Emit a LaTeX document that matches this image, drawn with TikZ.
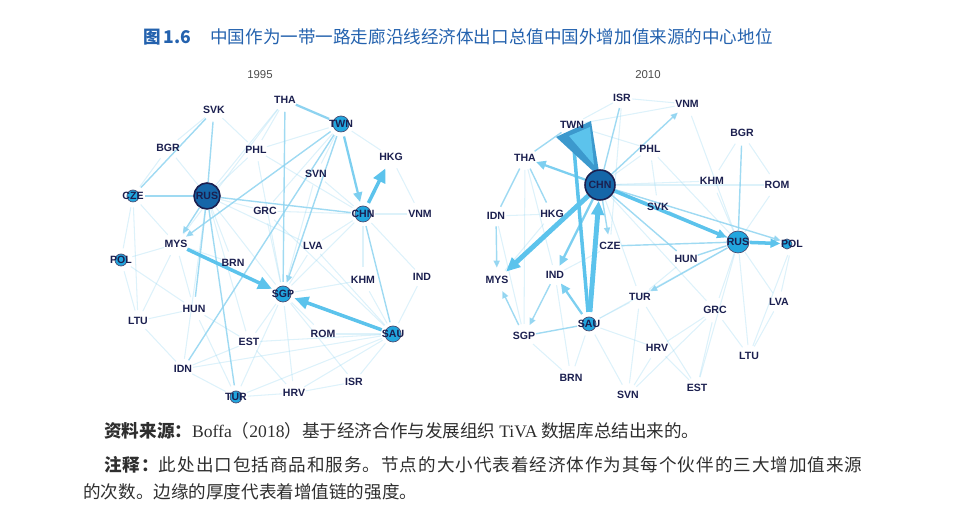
\documentclass[tikz,border=0pt]{standalone}
\usepackage{fontspec}
\setmainfont{Liberation Serif}
\newfontfamily\cjk{Noto Sans CJK SC}
\newfontfamily\cjkwide{Noto Sans CJK SC}[LetterSpace=5.5]
\newfontfamily\labfont{Liberation Sans}
\usetikzlibrary{arrows.meta,backgrounds,calc}

\definecolor{navy}{HTML}{1B1F4F}
\definecolor{ttlblue}{HTML}{2462AE}
\definecolor{edgeblue}{HTML}{8ED3F0}
\definecolor{arrblue}{HTML}{5CC3EC}
\definecolor{nodeblue}{HTML}{22A6DE}
\definecolor{hubblue}{HTML}{1566A8}
\definecolor{txtgray}{HTML}{2E2E2E}

\tikzset{
  ctry/.style={circle, inner sep=0pt, minimum size=0.4cm, text=navy,
    font=\labfont\bfseries\fontsize{6}{6}\selectfont},
  faint/.style={draw=edgeblue, opacity=0.3, line width=0.6pt},
  lnk/.style={draw=edgeblue, opacity=0.85, line width=0.8pt},
  lnkM/.style={draw=arrblue!80, line width=1.3pt},
  lnkB/.style={draw=arrblue, line width=2pt},
  lnkH/.style={draw=arrblue, line width=2.8pt},
  tipS/.style={-{Triangle[length=4pt,width=3.5pt]}},
  tipM/.style={-{Triangle[length=5.5pt,width=5pt]}},
  tipL/.style={-{Triangle[length=8pt,width=7pt]}},
  bub/.style={fill=nodeblue, draw=navy!80, line width=0.4pt},
  hub/.style={fill=hubblue, draw=navy, line width=0.9pt},
  year/.style={font=\labfont\fontsize{6.5}{7}\selectfont, text=black!70},
  note/.style={anchor=west, inner sep=0pt, text=txtgray, font=\fontsize{10}{12}\selectfont}
}

\begin{document}
\begin{tikzpicture}[x=0.02cm, y=-0.02cm]
\useasboundingbox (0,0) rectangle (965,516);

% title
\node[anchor=west, inner sep=0pt, text=ttlblue, font=\cjk\bfseries\fontsize{10}{12}\selectfont] (fig) at (143,37) {图\,1.6};
\node[anchor=west, inner sep=0pt, text=ttlblue, font=\cjk\fontsize{10}{12}\selectfont] (ttl) at (210,37) {中国作为一带一路走廊沿线经济体出口总值中国外增加值来源的中心地位};

\node[year] (yrA) at (260,75) {1995};
\node[year] (yrB) at (648,75) {2010};

% 1995
\node[ctry] (aTHA) at (285,100) {THA};
\node[ctry] (aSVK) at (214,110) {SVK};
\node[ctry] (aTWN) at (341,124) {TWN};
\node[ctry] (aBGR) at (168,148) {BGR};
\node[ctry] (aPHL) at (256,150) {PHL};
\node[ctry] (aHKG) at (391,157) {HKG};
\node[ctry] (aSVN) at (316,174) {SVN};
\node[ctry] (aCZE) at (133,196) {CZE};
\node[ctry, minimum size=0.54cm] (aRUS) at (207,196) {RUS};
\node[ctry] (aGRC) at (265,211) {GRC};
\node[ctry] (aCHN) at (363,214) {CHN};
\node[ctry] (aVNM) at (420,214) {VNM};
\node[ctry] (aMYS) at (176,244) {MYS};
\node[ctry] (aLVA) at (313,246) {LVA};
\node[ctry] (aPOL) at (121,260) {POL};
\node[ctry] (aBRN) at (233,263) {BRN};
\node[ctry] (aKHM) at (363,280) {KHM};
\node[ctry] (aIND) at (422,277) {IND};
\node[ctry] (aSGP) at (283,294) {SGP};
\node[ctry] (aHUN) at (194,309) {HUN};
\node[ctry] (aLTU) at (138,321) {LTU};
\node[ctry] (aSAU) at (393,334) {SAU};
\node[ctry] (aROM) at (323,334) {ROM};
\node[ctry] (aEST) at (249,342) {EST};
\node[ctry] (aIDN) at (183,369) {IDN};
\node[ctry] (aISR) at (354,382) {ISR};
\node[ctry] (aHRV) at (294,393) {HRV};
\node[ctry] (aTUR) at (236,397) {TUR};

% 2010
\node[ctry] (bISR) at (622,98) {ISR};
\node[ctry] (bVNM) at (687,104) {VNM};
\node[ctry] (bTWN) at (572,125) {TWN};
\node[ctry] (bBGR) at (742,133) {BGR};
\node[ctry] (bPHL) at (650,149) {PHL};
\node[ctry] (bTHA) at (525,158) {THA};
\node[ctry] (bKHM) at (712,181) {KHM};
\node[ctry, minimum size=0.62cm] (bCHN) at (600,185) {CHN};
\node[ctry] (bROM) at (777,185) {ROM};
\node[ctry] (bSVK) at (658,207) {SVK};
\node[ctry] (bHKG) at (552,214) {HKG};
\node[ctry] (bIDN) at (496,216) {IDN};
\node[ctry, minimum size=0.46cm] (bRUS) at (738,242) {RUS};
\node[ctry] (bPOL) at (792,244) {POL};
\node[ctry] (bCZE) at (610,246) {CZE};
\node[ctry] (bHUN) at (686,259) {HUN};
\node[ctry] (bIND) at (555,275) {IND};
\node[ctry] (bMYS) at (497,280) {MYS};
\node[ctry] (bTUR) at (640,297) {TUR};
\node[ctry] (bLVA) at (779,302) {LVA};
\node[ctry] (bGRC) at (715,310) {GRC};
\node[ctry] (bSAU) at (589,324) {SAU};
\node[ctry] (bSGP) at (524,336) {SGP};
\node[ctry] (bHRV) at (657,348) {HRV};
\node[ctry] (bLTU) at (749,356) {LTU};
\node[ctry] (bBRN) at (571,378) {BRN};
\node[ctry] (bEST) at (697,388) {EST};
\node[ctry] (bSVN) at (628,395) {SVN};

\begin{scope}[on background layer]
  % 1995 links
  \foreach \u/\v in {aTHA/aPHL, aTHA/aRUS, aTHA/aMYS, aBGR/aRUS, aBGR/aCZE, aBGR/aSVK, aSVK/aPHL, aCZE/aPOL,
      aCZE/aMYS, aPOL/aMYS, aPOL/aLTU, aPOL/aHUN, aRUS/aGRC, aRUS/aBRN, aRUS/aEST, aRUS/aSGP, aRUS/aLVA,
      aRUS/aIDN, aRUS/aPHL, aMYS/aHUN, aMYS/aLTU, aMYS/aBRN, aLTU/aHUN, aLTU/aIDN, aHUN/aEST, aHUN/aTUR,
      aEST/aSGP, aEST/aHRV, aIDN/aEST, aIDN/aSAU, aTUR/aSAU, aTUR/aHRV, aHRV/aSAU, aISR/aSAU, aROM/aSAU,
      aROM/aSGP, aKHM/aSAU, aKHM/aCHN, aIND/aSAU, aIND/aCHN, aVNM/aCHN, aVNM/aHKG, aHKG/aTWN, aLVA/aCHN,
      aLVA/aSGP, aGRC/aCHN, aSVN/aTWN, aSVN/aSGP, aPHL/aSGP, aPHL/aCHN, aGRC/aSGP, aKHM/aSGP, aCHN/aSGP,
      aISR/aSGP, aHRV/aSGP, aTUR/aSGP, aEST/aSAU, aGRC/aSAU, aLVA/aSAU, aPHL/aTWN, aGRC/aTWN, aCZE/aLTU,
      aSVN/aCHN, aHRV/aISR, aIDN/aTUR}
    \draw[faint] (\u) -- (\v);
  \foreach \u/\v in {aTHA/aSGP, aSVK/aRUS, aSVK/aCZE, aCZE/aRUS, aRUS/aCHN, aRUS/aHUN,
      aRUS/aTUR, aTWN/aIDN, aSAU/aCHN}
    \draw[lnk] (\u) -- (\v);
  \draw[lnkM, draw=edgeblue] (aTWN) -- (aTHA);
  \draw[lnk, tipS] (aTWN) -- (aMYS);
  \draw[lnk, tipS] (aTWN) -- (aSGP);
  \draw[lnk, tipS] (aRUS) -- (aMYS);
  \draw[lnkM, tipM] (aTWN) -- (aCHN);
  \draw[lnkB, tipL] (aCHN) -- (aHKG);
  \draw[lnkB, tipL] (aMYS) -- (aSGP);
  \draw[lnkB, tipL] (aSAU) -- (aSGP);

  % 2010 links
  \foreach \u/\v in {bVNM/bISR, bVNM/bTWN, bISR/bTWN, bPHL/bTWN, bPHL/bRUS, bISR/bCZE, bCHN/bKHM, bCHN/bROM,
      bCHN/bPHL, bCHN/bGRC, bCHN/bTUR, bKHM/bRUS, bROM/bRUS, bROM/bBGR, bKHM/bBGR, bSAU/bRUS, bSAU/bHRV,
      bSAU/bTUR, bSAU/bBRN, bSGP/bBRN, bSAU/bSVN, bHRV/bGRC, bGRC/bRUS, bLTU/bRUS, bEST/bRUS, bLVA/bRUS,
      bLVA/bPOL, bLTU/bPOL, bLTU/bLVA, bEST/bHRV, bEST/bGRC, bTUR/bHUN, bSVN/bHRV, bSVN/bTUR, bIDN/bHKG,
      bHKG/bMYS, bTHA/bSGP, bIND/bCZE, bTHA/bIND, bIDN/bSGP, bBRN/bIND, bSVK/bPHL, bVNM/bRUS, bEST/bTUR,
      bLTU/bGRC, bSVN/bGRC}
    \draw[faint] (\u) -- (\v);
  \foreach \u/\v in {bTWN/bTHA, bTHA/bIDN, bTHA/bHKG, bISR/bCHN, bCHN/bSVK, bCHN/bHUN, bCZE/bRUS,
      bRUS/bHUN, bBGR/bRUS, bSAU/bSGP, bSVK/bRUS}
    \draw[lnk] (\u) -- (\v);
  \draw[lnk, tipS] (bIDN) -- (bMYS);
  \draw[lnk, tipS] (bSGP) -- (bMYS);
  \draw[lnk, tipS] (bIND) -- (bSGP);
  \draw[lnk, tipS] (bCHN) -- (bCZE);
  \draw[lnk, tipS] (bCHN) -- (bPOL);
  \draw[lnk, tipS] (bRUS) -- (bTUR);
  \draw[lnk, tipS] (bCHN) -- (bVNM);
  \draw[lnkM, tipM] (bSAU) -- (bIND);
  \draw[lnkM, tipM] (bCHN) -- (bIND);
  \draw[lnkM, tipM] (bCHN) -- (bTHA);
  \draw[lnkB, tipM] (bCHN) -- (bRUS);
  \draw[lnkB, tipM] (bRUS) -- (bPOL);
  \draw[lnkB] (bSAU) -- (bTWN);
  \draw[lnkH, tipL] (bCHN) -- (bMYS);
  \draw[lnkH, tipL] (bSAU) -- (bCHN);
  % wedge CHN -> TWN
  \fill[arrblue!55!hubblue] ($(bTWN)+(-16,12)$) -- ($(bTWN)+(19,-4)$) -- ($(bCHN)+(-1,-13)$) -- ($(bCHN)+(-6,-13)$) -- cycle;
  \fill[arrblue] ($(bTWN)+(-3,11)$) -- ($(bTWN)+(18,2)$) -- ($(bCHN)+(-6,-20)$) -- cycle;

  % bubbles
  \path[hub] (aRUS.center) circle[radius=0.26cm];
  \foreach \n in {aTWN, aCHN, aSGP, aSAU}
    \path[bub] (\n.center) circle[radius=0.16cm];
  \foreach \n in {aCZE, aPOL, aTUR}
    \path[bub] (\n.center) circle[radius=0.12cm];
  \path[hub] (bCHN.center) circle[radius=0.3cm];
  \path[bub] (bRUS.center) circle[radius=0.22cm];
  \path[bub] (bSAU.center) circle[radius=0.14cm];
  \path[bub] ($(bPOL.center)+(-5,0)$) circle[radius=0.1cm];
\end{scope}

% notes
\node[note] (src) at (104,431) {\cjk{\bfseries 资料来源：}{\rmfamily Boffa}（{\rmfamily 2018}）基于经济合作与发展组织 {\rmfamily TiVA} 数据库总结出来的。};
\node[note] (rmk) at (104,465) {\cjkwide{\bfseries 注释：}此处出口包括商品和服务。节点的大小代表着经济体作为其每个伙伴的三大增加值来源};
\node[note] (rmk2) at (83,492) {\cjk 的次数。边缘的厚度代表着增值链的强度。};
\end{tikzpicture}
\end{document}
